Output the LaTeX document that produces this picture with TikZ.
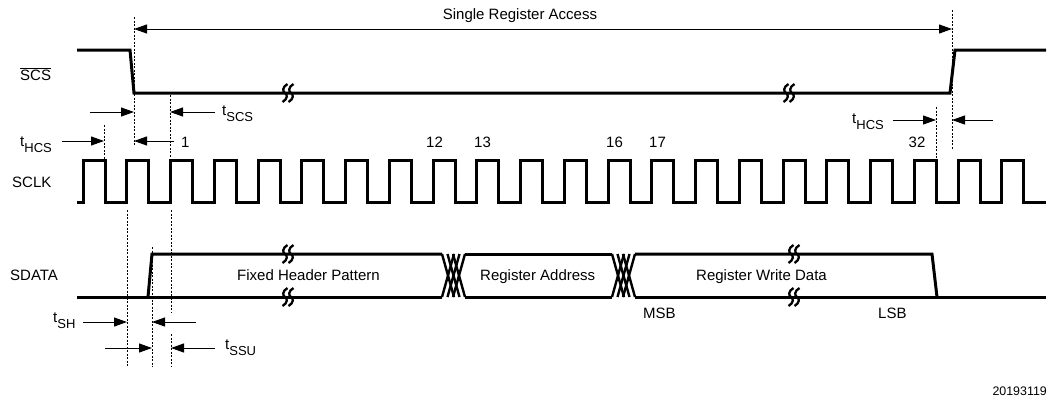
\documentclass[tikz,border=0pt]{standalone}
\usepackage{fontspec}
\setmainfont{Liberation Sans}
\usetikzlibrary{arrows.meta}
\newcommand{\tsb}[1]{t\raisebox{-6.5pt}{\fontsize{13}{13}\selectfont #1}}
\begin{document}
\begin{tikzpicture}[x=1pt,y=-1pt,font=\fontsize{15}{18}\selectfont,
  sig/.style={line width=3pt,line join=miter},
  xov/.style={line width=2.4pt},
  guide/.style={line width=0.9pt,dash pattern=on 2pt off 1.5pt},
  dim/.style={line width=1pt,-{Triangle[length=13pt,width=9pt]}},
  dimboth/.style={line width=1pt,{Triangle[length=13pt,width=9pt]}-{Triangle[length=13pt,width=9pt]}},
  lbl/.style={inner sep=0pt,anchor=base west},
  brk/.pic={\draw[line width=2.3pt] (2.5,-9) .. controls (-3,-6) and (-2.5,-1) .. (0,0) .. controls (2.5,1) and (3,6) .. (-2.5,9);
            \draw[line width=2.3pt] (8.5,-9) .. controls (3,-6) and (3.5,-1) .. (6,0) .. controls (8.5,1) and (9,6) .. (3.5,9);}]
\useasboundingbox (0,0) rectangle (1049,400);

% ---------- signal labels ----------
\node[lbl] (lscs) at (20,80) {$\overline{\hbox{SCS}}$};
\node[lbl] (lsclk) at (12,187) {SCLK};
\node[lbl] (lsdata) at (10,280) {SDATA};

% ---------- SCS ----------
\draw[sig] (77,50) -- (130,50) -- (134,93) -- (950,93) -- (955,50) -- (1046,50);
\pic at (285,93) {brk};
\pic at (786,93) {brk};

% ---------- SCLK ----------
\draw[sig] (77,202) \foreach \k in {0,...,21} { -- ({83+\k*43.76},202) -- ({83+\k*43.76},160) -- ({105+\k*43.76},160) -- ({105+\k*43.76},202) } -- (1046,202);

% ---------- SDATA ----------
\draw[sig] (77,297) -- (442,297);
\draw[sig] (465,297) -- (612,297);
\draw[sig] (635,297) -- (1046,297);
\draw[sig] (148,297) -- (152,254) -- (442,254);
\draw[sig] (465,254) -- (612,254);
\draw[sig] (635,254) -- (932,254) -- (937,297);
\foreach \s in {442,612} {
  \foreach \o in {0,5.5,11} {
    \draw[xov] ({\s+\o},254) -- ({\s+\o+12},297);
    \draw[xov] ({\s+\o},297) -- ({\s+\o+12},254);
  }
}
\pic at (285,254) {brk};
\pic at (285,297) {brk};
\pic at (791,254) {brk};
\pic at (791,297) {brk};

% ---------- data texts ----------
\node[lbl] (tfix) at (237,280) {Fixed Header Pattern};
\node[lbl] (tadr) at (480,280) {Register Address};
\node[inner sep=0pt,anchor=base east] (twd) at (827,280) {Register Write Data};
\node[lbl] (tmsb) at (643,318) {MSB};
\node[lbl] (tlsb) at (878,318) {LSB};

% ---------- clock numbers ----------
\node[lbl] (n1) at (181,147) {1};
\node[inner sep=0pt,anchor=base] (n12) at (434.5,147) {12};
\node[inner sep=0pt,anchor=base] (n13) at (482.5,147) {13};
\node[inner sep=0pt,anchor=base] (n16) at (614.5,147) {16};
\node[inner sep=0pt,anchor=base] (n17) at (657.5,147) {17};
\node[inner sep=0pt,anchor=base] (n32) at (917,147) {32};

% ---------- guide lines ----------
\draw[guide] (134,17) -- (134,145);
\draw[guide] (952,10) -- (952,150);
\draw[guide] (170,95) -- (170,158);
\draw[guide] (104,125) -- (104,160);
\draw[guide] (936,107) -- (936,160);
\draw[guide] (127,210) -- (127,367);
\draw[guide] (152,247) -- (152,367);
\draw[guide] (171,210) -- (171,312);
\draw[guide] (171,334) -- (171,367);

% ---------- dimension arrows ----------
\draw[dimboth] (134,29) -- (952,29);
\node[inner sep=0pt,anchor=base] (tsra) at (520,19) {Single Register Access};

\draw[dim] (90,112) -- (134,112);
\draw[dim] (215,112) -- (170,112);
\node[lbl] (ttscs) at (222,115) {\tsb{SCS}};

\draw[dim] (62,141) -- (104,141);
\draw[dim] (174,141) -- (134,141);
\node[lbl] (tthcs) at (20,146) {\tsb{HCS}};

\draw[dim] (893,120) -- (936,120);
\draw[dim] (993,120) -- (952,120);
\node[lbl] (tthcsr) at (852,123) {\tsb{HCS}};

\draw[dim] (83,322) -- (127,322);
\draw[dim] (196,322) -- (152,322);
\node[lbl] (ttsh) at (53,322) {\tsb{SH}};

\draw[dim] (105,348) -- (152,348);
\draw[dim] (215,348) -- (171,348);
\node[lbl] (ttssu) at (225,349) {\tsb{SSU}};

% ---------- figure number ----------
\node[inner sep=0pt,anchor=base east,font=\fontsize{12.4}{14}\selectfont] (fig) at (1047,395) {20193119};
\end{tikzpicture}
\end{document}
